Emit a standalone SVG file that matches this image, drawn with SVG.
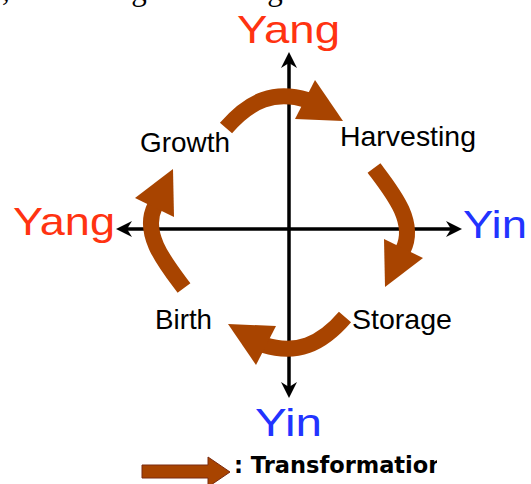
<svg xmlns="http://www.w3.org/2000/svg" xmlns:xlink="http://www.w3.org/1999/xlink" width="531" height="484" viewBox="0 0 531 484">
  <style>
    .lbl { font-family: "Liberation Sans", Arial, sans-serif; font-size: 28px; fill: #000; }
    .yang { font-family: "Liberation Sans", Arial, sans-serif; font-size: 39px; fill: #ff3311; }
    .yin { font-family: "Liberation Sans", Arial, sans-serif; font-size: 38px; fill: #2233ff; }
    .axis { stroke: #000; stroke-width: 3.5; fill: none; }
    .head { fill: #000; }
    .body { stroke: #a84400; stroke-width: 16; fill: none; stroke-linecap: butt; }
    .tri { fill: #a84400; }
  </style>
  <defs>
    <path id="axhead" d="M0,0 L-16,-8 L-11,0 L-16,8 Z"/>
    <g id="a1">
      <path class="body" d="M226,128 C250,100 275,90 307,100"/>
      <polygon class="tri" points="315,80 343,121 295,119"/>
    </g>
    <g id="a2">
      <path class="body" d="M374,168 C392,192 417,222 403,250"/>
      <polygon class="tri" points="384,239 423,258 385,287"/>
    </g>
    <clipPath id="legclip"><rect x="0" y="440" width="437" height="44"/></clipPath>
  </defs>
  <rect width="531" height="484" fill="#fff"/>

  <text id="caption" x="2" y="0" font-family="'Liberation Serif', 'Times New Roman', serif" font-size="31" fill="#000">, harvesting and storage.</text>

  <g id="connectors">
    <line class="axis" x1="289" y1="62" x2="289" y2="388"/>
    <line class="axis" x1="124" y1="229" x2="454" y2="229"/>
    <use href="#axhead" class="head" transform="translate(289,52) rotate(-90)"/>
    <use href="#axhead" class="head" transform="translate(289,398) rotate(90)"/>
    <use href="#axhead" class="head" transform="translate(116,229) rotate(180)"/>
    <use href="#axhead" class="head" transform="translate(462,229)"/>
    <use href="#a1"/>
    <use href="#a2"/>
    <use href="#a1" transform="rotate(180 285.5 222.5)"/>
    <use href="#a2" transform="rotate(180 279 228)"/>
  </g>

  <g id="yang-top"><text class="yang" x="237" y="43" textLength="103" lengthAdjust="spacingAndGlyphs">Yang</text></g>
  <g id="yang-left"><text class="yang" x="13" y="235" textLength="102" lengthAdjust="spacingAndGlyphs">Yang</text></g>
  <g id="yin-right"><text class="yin" x="463" y="238" textLength="64" lengthAdjust="spacingAndGlyphs">Yin</text></g>
  <g id="yin-bottom"><text class="yin" x="255" y="436" textLength="67" lengthAdjust="spacingAndGlyphs">Yin</text></g>

  <g id="growth"><text class="lbl" x="140" y="152" textLength="90" lengthAdjust="spacingAndGlyphs">Growth</text></g>
  <g id="harvesting"><text class="lbl" x="340" y="146" textLength="136" lengthAdjust="spacingAndGlyphs">Harvesting</text></g>
  <g id="birth"><text class="lbl" x="155" y="329" textLength="57" lengthAdjust="spacingAndGlyphs">Birth</text></g>
  <g id="storage"><text class="lbl" x="352" y="329" textLength="100" lengthAdjust="spacingAndGlyphs">Storage</text></g>

  <g id="legend">
    <path d="M142,465 L208,465 L208,457 L230,472 L208,487 L208,478 L142,478 Z" fill="#a84400" stroke="#7a2a10" stroke-width="1"/>
    <text x="234" y="473" clip-path="url(#legclip)" font-family="'DejaVu Sans', Verdana, sans-serif" font-weight="bold" font-size="22.5" fill="#000">: Transformation</text>
  </g>
</svg>
